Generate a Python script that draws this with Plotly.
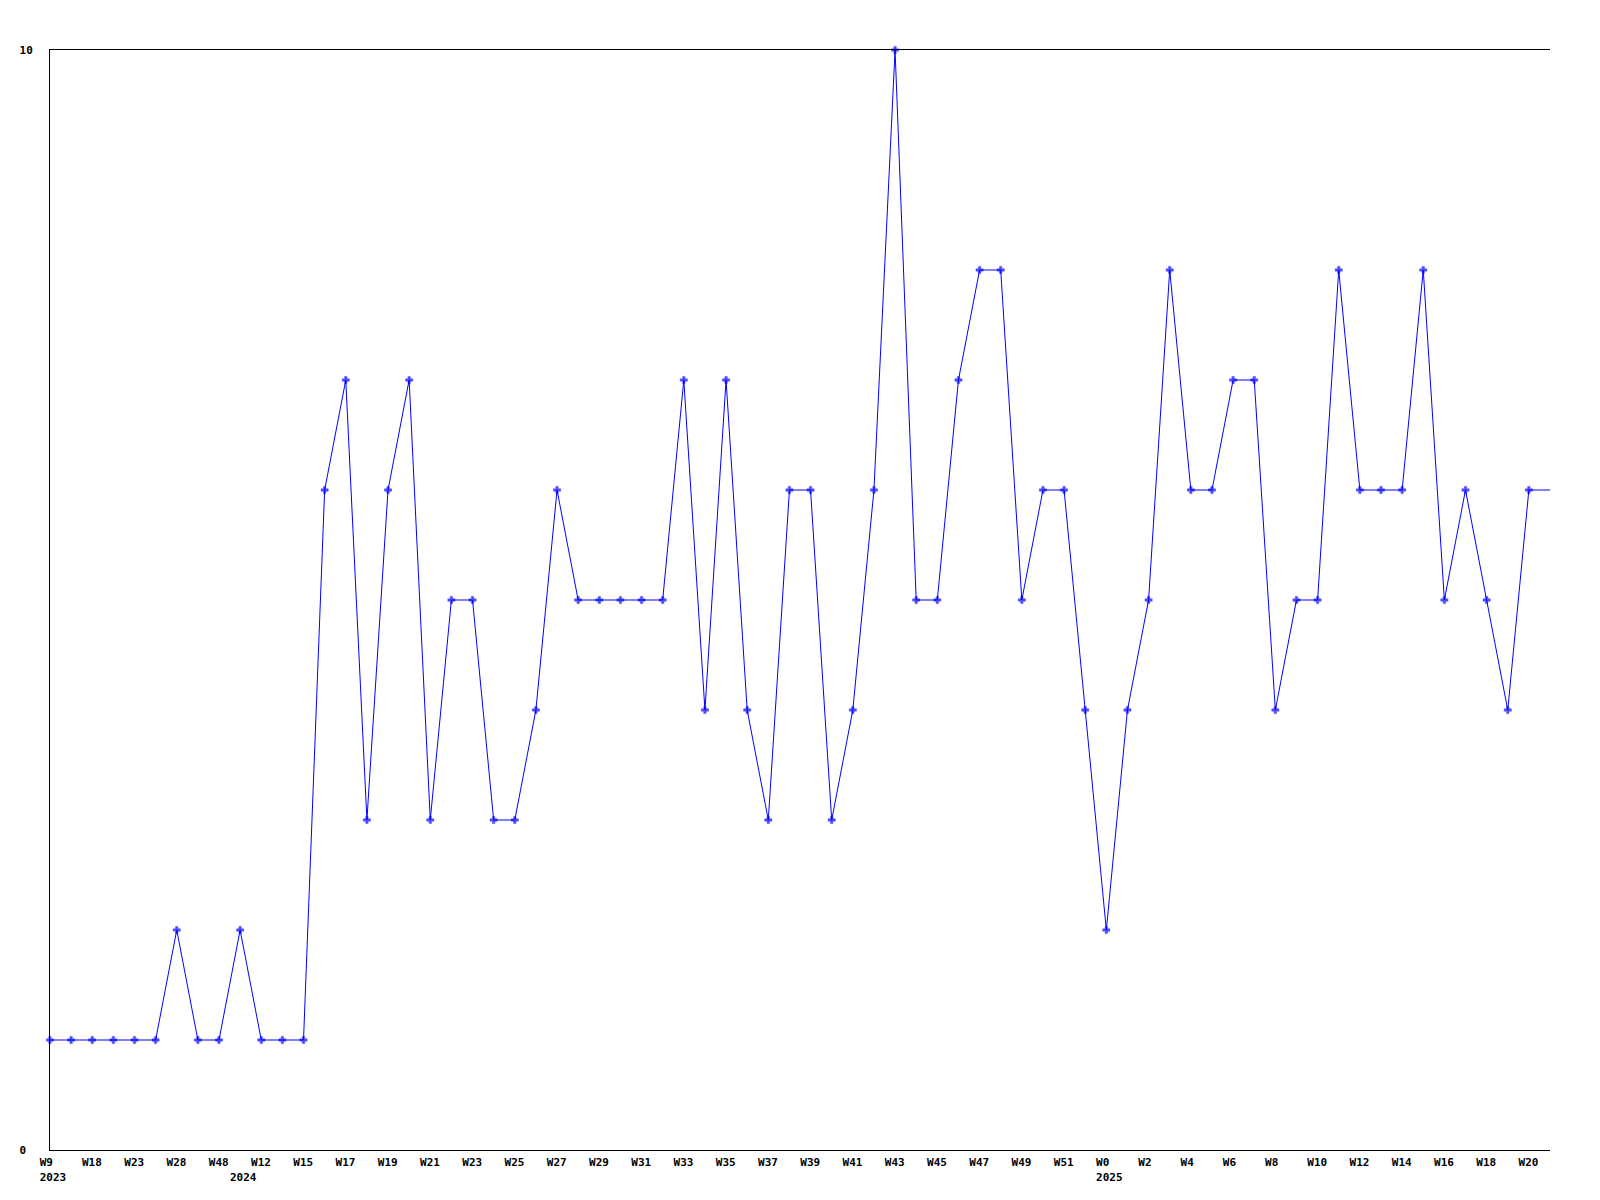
import plotly.graph_objects as go

# Week categories (year, week label)
years = ["2023"] * 9 + ["2024"] * 41 + ["2025"] * 22
weeks = ["W9", "W13", "W18", "W20", "W23", "W25", "W28", "W40", "W48",
         "W5", "W12", "W13"] + [f"W{n}" for n in range(15, 53)] + [f"W{n}" for n in range(0, 22)]
values = [1, 1, 1, 1, 1, 1, 2, 1, 1, 2, 1, 1, 1, 6, 7, 3, 6, 7, 3, 5,
          5, 3, 3, 4, 6, 5, 5, 5, 5, 5, 7, 4, 7, 4, 3, 6, 6, 3, 4, 6,
          10, 5, 5, 7, 8, 8, 5, 6, 6, 4, 2, 4, 5, 8, 6, 6, 7, 7, 4, 5,
          5, 8, 6, 6, 6, 8, 5, 6, 5, 4, 6, 6]
y_ticks = [0, 10]

categories = [f"{y}-{w}" for y, w in zip(years, weeks)]

# week label every second week; year label at the first week of each year
NB = "\u00a0"
tickvals, ticktext = [], []
prev_year = None
for i, cat in enumerate(categories):
    show_week = (i % 2 == 0)
    show_year = years[i] != prev_year
    prev_year = years[i]
    if not (show_week or show_year):
        continue
    top = weeks[i].ljust(4, NB) if show_week else NB * 4
    bottom = years[i] if show_year else NB * 4
    tickvals.append(cat)
    ticktext.append(top + "<br>" + bottom)

marker_sizes = [6] * (len(values) - 1) + [0]

fig = go.Figure(go.Scatter(
    x=categories, y=values, mode="lines+markers",
    line=dict(color="#0000FF", width=1),
    marker=dict(symbol="cross", size=marker_sizes, color="#0000FF",
                line=dict(width=0.5, color="#0000FF")),
    cliponaxis=False,
    hoverinfo="x+y",
))

font = dict(family="DejaVu Sans Mono", size=11, color="#000000")

fig.update_layout(
    width=1584, height=1184,
    margin=dict(l=42, r=42, t=42, b=42, autoexpand=False),
    paper_bgcolor="white", plot_bgcolor="white",
    showlegend=False,
    font=font,
    xaxis=dict(
        type="category", range=[0, len(categories) - 1],
        tickmode="array", tickvals=tickvals, ticktext=ticktext,
        showgrid=False, zeroline=False, showline=True, linecolor="black", linewidth=1,
        mirror=True, ticks="", tickangle=0, ticklabelshift=3, ticklabelstandoff=2,
        tickfont=dict(family="DejaVu Sans Mono", size=11, color="black", weight="bold"),
        fixedrange=True, automargin=False,
    ),
    yaxis=dict(
        range=[0, 10], tickmode="array", tickvals=y_ticks,
        ticktext=["0" + NB, "10"],
        showgrid=False, zeroline=False, showline=True, linecolor="black", linewidth=1,
        ticks="", ticklabelstandoff=14,
        tickfont=dict(family="DejaVu Sans Mono", size=11, color="black", weight="bold"),
        fixedrange=True, automargin=False,
    ),
)

fig.write_html("out.html")
